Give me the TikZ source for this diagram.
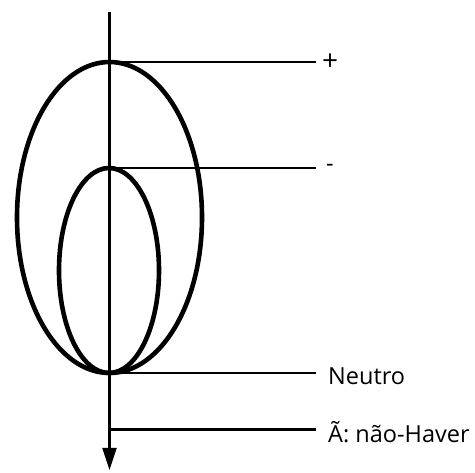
\documentclass[tikz,border=0pt]{standalone}
\usepackage{fontspec}
\setmainfont{Open Sans}
\usetikzlibrary{arrows.meta}
\begin{document}
\begin{tikzpicture}[x=1pt,y=-1pt,
  ring/.style={line width=4.6pt},
  axisline/.style={line width=2.2pt},
  leader/.style={line width=2.2pt},
  lbl/.style={anchor=west,inner sep=0pt,font=\fontsize{23.5}{27}\selectfont}]
\useasboundingbox (0,0) rectangle (475,473);
% ellipses
\draw[ring] (109.5,217.5) ellipse [x radius=92.5pt, y radius=155.5pt];
\draw[ring] (109,270.5) ellipse [x radius=50pt, y radius=102.5pt];
% axis
\coordinate (axtop) at (109.5,12);
\coordinate (axbot) at (109.5,470);
\draw[axisline,-{Triangle[length=22pt,width=14pt]}] (axtop) -- (axbot);
% leader start points
\coordinate (p1) at (109.5,62);
\coordinate (p2) at (109.5,168);
\coordinate (p3) at (109.5,373);
\coordinate (p4) at (109.5,429.5);
\coordinate (q1) at (316,62);
\coordinate (q2) at (316,168);
\coordinate (q3) at (316,373);
\coordinate (q4) at (316,429.5);
\draw[leader] (p1) -- (q1);
\draw[leader] (p2) -- (q2);
\draw[leader] (p3) -- (q3);
\draw[leader] (p4) -- (q4);
% labels
\node[lbl,font=\fontsize{28}{32}\selectfont] (lplus) at (322,62) {+};
\node[lbl] (lminus) at (326,168) {-};
\node[lbl] (lneutro) at (328,376) {Neutro};
\node[lbl] (lhaver) at (328,432) {Ã: não-Haver};
\end{tikzpicture}
\end{document}
